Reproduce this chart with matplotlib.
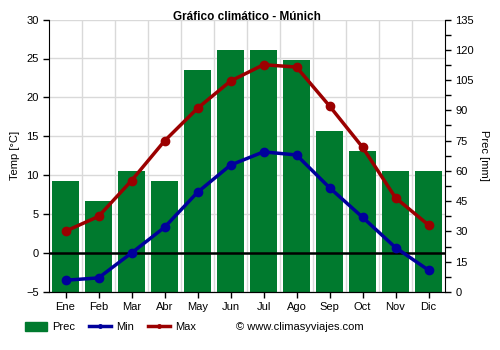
import matplotlib
matplotlib.use("Agg")
import matplotlib.pyplot as plt
from matplotlib.patches import Patch
from matplotlib.lines import Line2D
import numpy as np

plt.rcParams['font.family'] = ['Liberation Sans', 'DejaVu Sans']

months = ["Ene", "Feb", "Mar", "Abr", "May", "Jun", "Jul", "Ago", "Sep", "Oct", "Nov", "Dic"]
prec = [55, 45, 60, 55, 110, 120, 120, 115, 80, 70, 60, 60]
t_min = [-3.5, -3.2, 0.0, 3.3, 7.8, 11.3, 13.0, 12.6, 8.4, 4.6, 0.7, -2.2]
t_max = [2.8, 4.7, 9.3, 14.4, 18.6, 22.1, 24.2, 23.9, 18.9, 13.6, 7.1, 3.6]

green = "#007a2e"
blue = "#00009c"
red = "#9b0000"
fs = 8

fig = plt.figure(figsize=(5, 3.5), dpi=100)
ax = fig.add_axes([0.098, 0.166, 0.792, 0.778])
ax2 = ax.twinx()

x = np.arange(len(months))

# precipitation bars on the right-hand scale
ax2.bar(x, prec, width=0.8, color=green, zorder=2)
ax2.set_ylim(0, 135)
ax2.set_yticks(np.arange(0, 136, 15))
ax2.set_yticks(np.arange(7.5, 135, 15), minor=True)
ax2.set_ylabel("Prec [mm]", fontsize=fs, rotation=270, labelpad=11)

# temperature lines on the left-hand scale, drawn above the bars
ax.set_zorder(ax2.get_zorder() + 1)
ax.patch.set_visible(False)
ax.set_ylim(-5, 30)
ax.set_xlim(-0.5, 11.5)
ax.set_yticks(np.arange(-5, 31, 5))
ax.set_xticks(x)
ax.set_xticklabels(months)
ax.set_ylabel("Temp [°C]", fontsize=fs, labelpad=4)

# grid behind bars (drawn on the bar axes)
for yv in np.arange(-5, 31, 5):
    ax2.axhline((yv + 5) * 135 / 35, color="#d9d9d9", lw=1, zorder=0)
for xv in np.arange(0.5, 11.5, 1):
    ax2.axvline(xv, color="#d9d9d9", lw=1, zorder=0)
ax2.set_xlim(-0.5, 11.5)

ax.axhline(0, color="black", lw=1.8, zorder=3)
ax.plot(x, t_min, color=blue, lw=2.5, marker="o", ms=6, zorder=4)
ax.plot(x, t_max, color=red, lw=2.5, marker="o", ms=6, zorder=4)

for a in (ax, ax2):
    a.tick_params(labelsize=fs, length=4, width=1, colors="black")
    a.spines["top"].set_visible(False)
ax.spines["right"].set_visible(False)
ax2.spines["left"].set_visible(False)
ax2.tick_params(which="minor", length=4, width=1)
ax.tick_params(axis="x", length=4)

fig.text(0.494, 0.951, "Gráfico climático - Múnich", fontsize=8.5,
         fontweight="bold", ha="center", va="center", zorder=10)

handles = [
    Patch(color=green, label="Prec"),
    Line2D([], [], color=blue, lw=2.5, marker="o", ms=2.5, label="Min"),
    Line2D([], [], color=red, lw=2.5, marker="o", ms=2.5, label="Max"),
]
fig.legend(handles=handles, loc="center left", bbox_to_anchor=(0.03, 0.066),
           ncol=3, frameon=False, fontsize=fs, handlelength=2.0,
           handleheight=0.9, columnspacing=1.3, handletextpad=0.4)
fig.text(0.472, 0.066, "© www.climasyviajes.com", fontsize=fs, va="center", ha="left")

fig.savefig("out.png", dpi=100)
